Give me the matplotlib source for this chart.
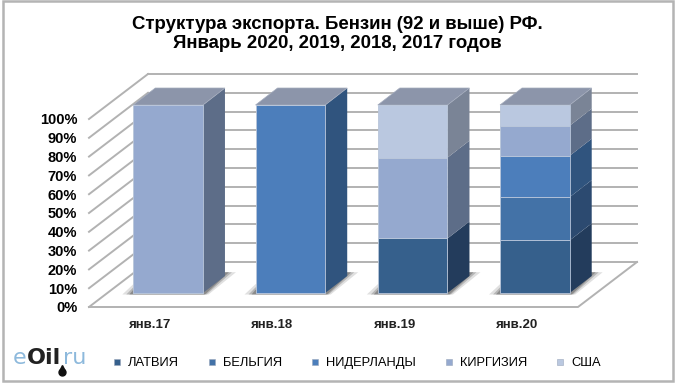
import matplotlib
matplotlib.use("Agg")
import matplotlib.pyplot as plt
from matplotlib.patches import Polygon, Rectangle
from matplotlib.lines import Line2D
from matplotlib.transforms import ScaledTranslation

plt.rcParams['font.family'] = ['Liberation Sans', 'DejaVu Sans']

# --- DATA ---
months = ['янв.17', 'янв.18', 'янв.19', 'янв.20']
latvia = [0, 0, 29, 28]
belgium = [0, 0, 0, 23]
netherlands = [0, 100, 0, 22]
kyrgyzstan = [100, 0, 43, 16]
usa = [0, 0, 28, 11]
series_names = ['ЛАТВИЯ', 'БЕЛЬГИЯ', 'НИДЕРЛАНДЫ', 'КИРГИЗИЯ', 'США']
y_ticks = [0, 10, 20, 30, 40, 50, 60, 70, 80, 90, 100]

series = [latvia, belgium, netherlands, kyrgyzstan, usa]
front_colors = ['#36608C', '#4372A7', '#4C7EBB', '#95A9CF', '#BAC8E0']
side_colors = ['#233C5C', '#2C4A70', '#30547E', '#5D6D88', '#7A8496']
top_color = '#8C95AA'
grid_color = '#B2B2B2'

W, H, DPI = 680, 385, 100
fig = plt.figure(figsize=(W / DPI, H / DPI), dpi=DPI)
ax = fig.add_axes([89 / W, 1 - 307 / H, (578 - 89) / W, (307 - 119) / H])
ax.set_xlim(0, 4)
ax.set_ylim(0, 100)
ax.patch.set_alpha(0)
for s in ax.spines.values():
    s.set_visible(False)


def shifted(dx, dy):
    # offset from the data plane, in pixels
    return ax.transData + ScaledTranslation(dx / DPI, dy / DPI, fig.dpi_scale_trans)


# --- walls and floor ---
back = shifted(59, 45)
px_per_x = (578 - 89) / 4
px_per_y = (307 - 119) / 100
dx_wall, dy_wall = 59 / px_per_x, 45 / px_per_y
for t in y_ticks:
    ax.plot([0, 4], [t, t], color=grid_color, lw=1.4, transform=back, clip_on=False, zorder=1)
    ax.plot([0, dx_wall], [t, t + dy_wall], color=grid_color, lw=1.4, clip_on=False, zorder=1)
ax.plot([0, 4, 4 + dx_wall], [0, 0, dy_wall], color=grid_color, lw=1.4, clip_on=False, zorder=1)

# --- bars ---
bar_width = 0.57
depth_x, depth_y = 22 / px_per_x, 17 / px_per_y
plane = shifted(18, 14)
for i in range(len(months)):
    x0 = i + 0.5 - bar_width / 2
    x1 = x0 + bar_width
    # shadow on the floor
    for grow, alpha in [(11, 0.18), (7, 0.3), (4, 0.45)]:
        g = grow / px_per_x
        shadow = Polygon([(x0 - g, -0.8), (x1 + g / 2, -0.8), (x1 + depth_x + g, depth_y + 2),
                          (x1, depth_y + 2), (x0, grow * 0.8 / px_per_y)], closed=True,
                         fc='#555555', ec='none', alpha=alpha, transform=plane,
                         clip_on=False, zorder=2)
        ax.add_patch(shadow)
    bottom = 0
    for j, vals in enumerate(series):
        v = vals[i]
        ax.bar(i + 0.5, v, bar_width, bottom=bottom, color=front_colors[j], linewidth=0.6,
               edgecolor='#B9C6DA', transform=plane, clip_on=False, zorder=4)
        if v > 0:
            side = Polygon([(x1, bottom), (x1 + depth_x, bottom + depth_y),
                            (x1 + depth_x, bottom + v + depth_y), (x1, bottom + v)],
                           closed=True, fc=side_colors[j], ec='none', transform=plane,
                           clip_on=False, zorder=3)
            ax.add_patch(side)
        bottom += v
    top = Polygon([(x0, bottom), (x1, bottom), (x1 + depth_x, bottom + depth_y),
                   (x0 + depth_x, bottom + depth_y)], closed=True, fc=top_color, ec='#A4ACBD',
                  lw=0.5, transform=plane, clip_on=False, zorder=3)
    ax.add_patch(top)

# --- axes text ---
ax.set_yticks(y_ticks)
ax.set_yticklabels([f'{t}%' for t in y_ticks], fontsize=10.5, fontweight='bold', color='black')
ax.set_xticks([i + 0.5 for i in range(len(months))])
ax.set_xticklabels(months, fontsize=9.5, fontweight='bold', color='#222222')
ax.tick_params(axis='y', length=0, pad=8.5)
ax.tick_params(axis='x', length=0, pad=9)

fig.text(337 / W, 1 - 34 / H, 'Структура экспорта. Бензин (92 и выше) РФ.\nЯнварь 2020, 2019, 2018, 2017 годов',
         ha='center', va='center', fontsize=13.4, fontweight='bold', linespacing=1.15)

# --- legend ---
handles = [Line2D([], [], ls='none', marker='s', ms=4.5, color=c, mec='#9AA7BC', mew=0.4)
           for c in front_colors]
fig.legend(handles, series_names, ncol=5, frameon=False, fontsize=9.3,
           loc='center', bbox_to_anchor=(357 / W, 1 - 363 / H), columnspacing=2.27,
           handlelength=0.6, handletextpad=0.53, borderpad=0, borderaxespad=0)

# --- logo ---
fig.text(13 / W, 1 - 358 / H, 'e', fontsize=16, color='#8DB9DC', va='center', family='DejaVu Sans')
fig.text(27 / W, 1 - 358 / H, 'Oil', fontsize=16, color='#222222', fontweight='bold', va='center',
         family='DejaVu Sans')
fig.text(63 / W, 1 - 358 / H, 'ru', fontsize=16, color='#8DB9DC', va='center', family='DejaVu Sans')
fig.add_artist(Line2D([62 / W], [1 - 368 / H], transform=fig.transFigure, marker='^', ms=4,
                      color='#111111', ls='none'))
fig.add_artist(Line2D([62 / W], [1 - 372 / H], transform=fig.transFigure, marker='o', ms=5,
                      color='#111111', ls='none'))

# --- frame ---
fig.add_artist(Rectangle((3 / W, 1 - 381 / H), 670 / W, 380 / H, transform=fig.transFigure,
                         fill=False, ec='#B4B4B4', lw=1.8))

fig.savefig('out.png', dpi=DPI)
